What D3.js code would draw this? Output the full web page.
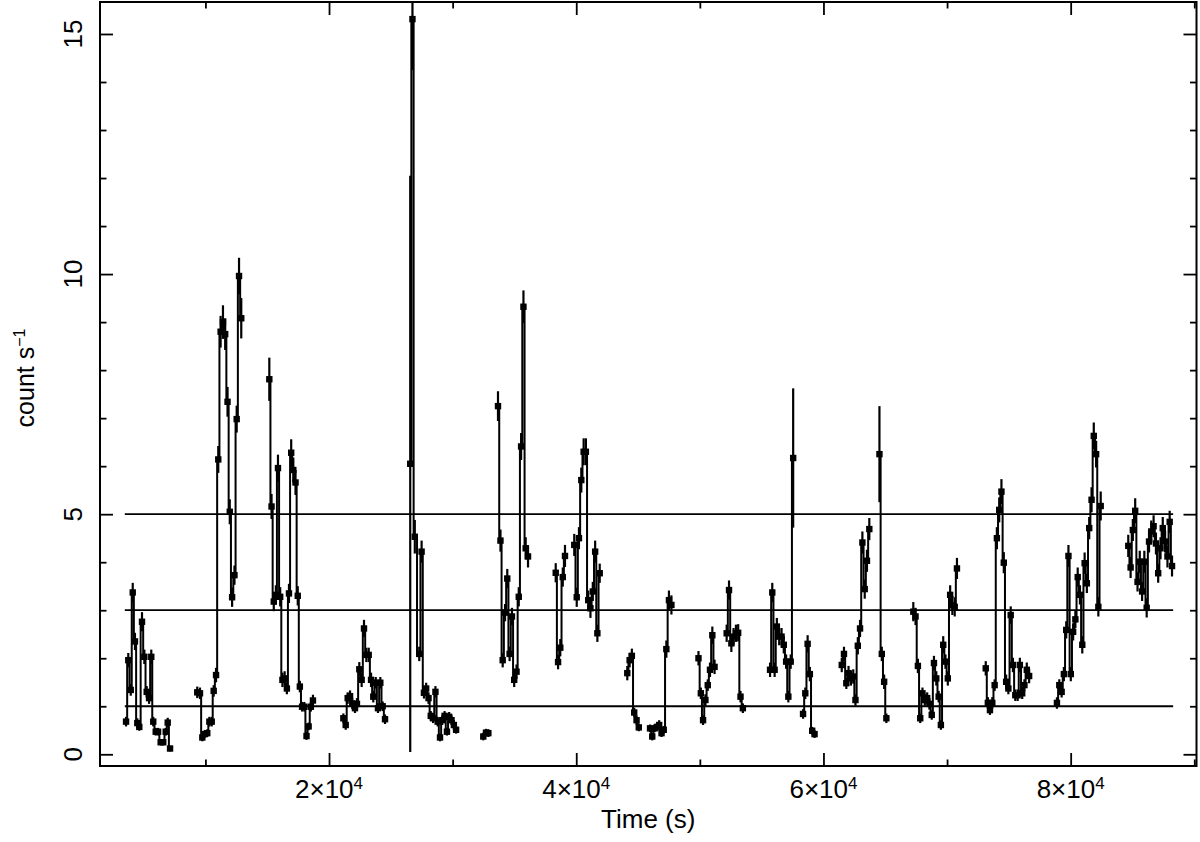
<!DOCTYPE html>
<html><head><meta charset="utf-8">
<script src="https://cdn.jsdelivr.net/npm/d3@7"></script>
<style>body{margin:0;background:#fff}svg{display:block}text{font-family:"Liberation Sans",Arial,Helvetica,sans-serif;fill:#000}</style>
</head><body>
<svg id="c" width="1200" height="842"></svg>
<script>
// Light-curve segments: [time (s), rate (count/s), 1-sigma error]
const segA=[[3580,0.68,0.10],[3760,1.96,0.15],[3960,1.34,0.12],[4120,3.37,0.20],[4300,2.35,0.18],[4490,0.65,0.10],[4650,0.57,0.08],[4870,2.76,0.20],[5060,2.03,0.15],[5250,1.30,0.12],[5440,1.17,0.12],[5620,2.03,0.15],[5780,0.68,0.10],[5980,0.47,0.08],[6170,0.47,0.08],[6380,0.25,0.06],[6590,0.25,0.06],[6790,0.47,0.08],[6950,0.66,0.10],[7140,0.12,0.06]];
const segB=[[9340,1.29,0.12],[9560,1.27,0.12],[9750,0.35,0.08],[9940,0.42,0.08],[10150,0.44,0.08],[10320,0.68,0.10],[10510,0.68,0.10],[10670,1.32,0.12],[10860,1.65,0.15],[11040,6.14,0.28],[11230,8.80,0.33],[11420,9.00,0.35],[11600,8.75,0.33],[11790,7.34,0.31],[11970,5.05,0.26],[12160,3.27,0.20],[12350,3.73,0.20],[12530,6.98,0.28],[12720,9.96,0.38],[12900,9.08,0.42]];
const segC=[[15170,7.81,0.45],[15350,5.16,0.26],[15530,3.18,0.20],[15700,3.32,0.20],[15870,5.96,0.28],[16050,3.28,0.20],[16230,1.55,0.15],[16410,1.58,0.15],[16590,1.37,0.12],[16760,3.35,0.20],[16940,6.28,0.28],[17110,5.92,0.26],[17290,5.66,0.26],[17470,3.30,0.20],[17640,1.41,0.12],[17820,0.99,0.10],[18000,0.99,0.10],[18180,0.38,0.08],[18350,0.58,0.08],[18530,0.99,0.10],[18700,1.12,0.12]];
const segD=[[21160,0.75,0.10],[21350,0.61,0.10],[21510,1.17,0.12],[21700,1.21,0.12],[21880,1.06,0.12],[22100,0.96,0.10],[22260,1.05,0.12],[22450,1.77,0.15],[22640,1.55,0.15],[22830,2.62,0.18],[23020,2.07,0.15],[23210,2.07,0.15],[23400,1.55,0.15],[23580,1.20,0.12],[23780,1.49,0.12],[23960,0.96,0.10],[24150,1.49,0.12],[24340,1.00,0.10],[24530,0.73,0.10]];
const segE=[[26570,6.05,6.00],[26750,15.31,1.06],[26940,4.53,0.35],[27300,2.09,0.15],[27490,4.22,0.23],[27680,1.28,0.12],[27860,1.37,0.12],[28050,1.17,0.12],[28230,0.80,0.10],[28420,0.75,0.10],[28610,1.30,0.12],[28790,0.68,0.10],[28980,0.35,0.08],[29160,0.71,0.10],[29350,0.80,0.10],[29540,0.47,0.08],[29720,0.78,0.10],[29910,0.71,0.10],[30100,0.61,0.10],[30280,0.51,0.08]];
const segF=[[32480,0.37,0.08],[32700,0.45,0.08],[32890,0.44,0.08]];
const segG=[[33670,7.25,0.31],[33870,4.45,0.23],[34050,1.96,0.15],[34240,2.95,0.18],[34420,3.66,0.20],[34610,2.09,0.15],[34800,2.87,0.18],[34980,1.55,0.15],[35170,1.72,0.15],[35350,3.28,0.20],[35540,6.41,0.28],[35730,9.32,0.34],[35910,4.29,0.23],[36100,4.12,0.23]];
const segH1=[[38340,3.78,0.20],[38530,1.92,0.15],[38710,2.22,0.18],[38910,3.69,0.20],[39090,4.13,0.23]];
const segH2=[[39840,4.36,0.23],[40040,3.27,0.20],[40220,4.50,0.23],[40410,5.71,0.26],[40600,6.30,0.28],[40780,6.30,0.28],[40970,3.21,0.20],[41150,3.04,0.20],[41340,3.39,0.20],[41530,4.22,0.23],[41710,2.52,0.18],[41900,3.77,0.20]];
const segI1=[[44130,1.69,0.15],[44320,1.96,0.15],[44500,2.05,0.15],[44690,0.87,0.10],[44880,0.71,0.10],[45060,0.56,0.08]];
const segI2=[[45970,0.54,0.08],[46150,0.37,0.08],[46340,0.54,0.08],[46530,0.57,0.08],[46710,0.61,0.10],[46900,0.44,0.08],[47080,0.51,0.08],[47290,2.19,0.18],[47500,3.21,0.20],[47700,3.11,0.20]];
const segJ1=[[49890,2.00,0.15],[50080,1.27,0.12],[50260,0.71,0.10],[50450,1.13,0.12],[50640,1.44,0.12],[50820,1.76,0.15],[51010,2.48,0.18],[51190,1.82,0.15]];
const segJ2=[[52170,2.52,0.18],[52360,3.42,0.20],[52550,2.31,0.18],[52730,2.45,0.18],[52920,2.52,0.18],[53100,2.53,0.18],[53290,1.20,0.12],[53480,0.96,0.10]];
const segK1=[[55680,1.76,0.15],[55860,3.37,0.20],[56050,1.76,0.15],[56230,2.66,0.18],[56420,2.45,0.18],[56610,2.45,0.18],[56790,2.28,0.18],[56980,1.93,0.15],[57160,1.20,0.12],[57350,1.93,0.15],[57550,6.17,1.45]];
const segK2=[[58350,0.84,0.10],[58530,1.27,0.12],[58720,2.30,0.18],[58900,1.67,0.15],[59090,0.49,0.08],[59280,0.42,0.08]];
const segL1=[[61480,1.86,0.15],[61660,2.09,0.15],[61850,1.48,0.12],[62030,1.69,0.15],[62220,1.58,0.15],[62410,1.62,0.15],[62590,1.13,0.12],[62780,2.26,0.18],[62960,2.62,0.18],[63150,4.41,0.23],[63340,3.44,0.20],[63520,4.03,0.23],[63710,4.69,0.23]];
const segL2=[[64530,6.25,1.00],[64720,2.09,0.15],[64910,1.51,0.15],[65090,0.75,0.10]];
const segM=[[67270,2.97,0.20],[67450,2.87,0.18],[67640,1.84,0.15],[67830,0.75,0.10],[68010,1.27,0.12],[68200,1.13,0.12],[68390,1.17,0.12],[68570,1.05,0.12],[68760,0.82,0.10],[68940,1.90,0.15],[69130,1.58,0.15],[69320,1.20,0.12],[69500,0.61,0.10],[69690,2.28,0.18],[69870,1.93,0.15],[70060,1.58,0.15],[70250,3.32,0.20],[70430,3.10,0.20],[70620,3.07,0.20],[70800,3.87,0.22]];
const segN=[[73130,1.79,0.15],[73300,1.07,0.12],[73470,0.92,0.10],[73660,1.07,0.12],[73850,1.44,0.12],[74030,4.50,0.23],[74220,5.09,0.26],[74400,5.47,0.26],[74590,3.99,0.22],[74780,1.51,0.15],[74960,1.37,0.12],[75150,2.90,0.18],[75330,1.86,0.15],[75520,1.23,0.12],[75710,1.23,0.12],[75890,1.86,0.15],[76080,1.27,0.12],[76260,1.44,0.12],[76450,1.76,0.15],[76640,1.63,0.15]];
const segO=[[78890,1.07,0.12],[79080,1.44,0.12],[79270,1.30,0.12],[79450,1.67,0.15],[79640,2.59,0.18],[79820,4.13,0.23],[80010,1.67,0.15],[80200,2.55,0.18],[80380,2.81,0.18],[80570,3.69,0.20],[80750,3.32,0.20],[80940,2.28,0.18],[81130,3.98,0.22],[81310,3.56,0.20],[81500,4.71,0.23],[81690,5.30,0.26],[81870,6.63,0.28],[82060,6.25,0.28],[82240,3.07,0.20],[82430,5.17,0.30]];
const segP=[[84660,4.34,0.23],[84850,3.89,0.22],[85030,4.67,0.23],[85220,5.07,0.26],[85410,3.59,0.20],[85590,4.01,0.23],[85780,3.39,0.20],[85960,4.01,0.23],[86150,3.05,0.20],[86340,4.43,0.23],[86520,4.64,0.23],[86710,4.75,0.23],[86900,4.39,0.23],[87080,3.77,0.20],[87270,4.29,0.23],[87450,4.71,0.23],[87640,4.43,0.23],[87830,4.12,0.23],[88010,4.84,0.23],[88200,3.92,0.22]];
const segments=[segA,segB,segC,segD,segE,segF,segG,segH1,segH2,segI1,segI2,segJ1,segJ2,segK1,segK2,segL1,segL2,segM,segN,segO,segP];
const binHalf=93;
const refLevels=[1,3,5];
const refSpan=[3480,88290];
const xDomain=[1472,90180];
const yDomain=[-0.244,15.666];
const xMajor=[20000,40000,60000,80000];
const xMinor=[10000,30000,50000,70000,90000];
const xLabels=["2","4","6","8"];
const yMajor=[0,5,10,15];
const yMinor=[1,2,3,4,6,7,8,9,11,12,13,14];
const xTitle="Time (s)";

const L=100,R=1196.5,T=2,B=766;
const svg=d3.select("#c");
const x=d3.scaleLinear().domain(xDomain).range([L,R]);
const y=d3.scaleLinear().domain(yDomain).range([B,T]);

svg.append("defs").append("clipPath").attr("id","clip").append("rect")
  .attr("x",L).attr("y",T).attr("width",R-L).attr("height",B-T);

const plot=svg.append("g").attr("clip-path","url(#clip)");

// reference levels
plot.selectAll("line.ref").data(refLevels).join("line")
  .attr("x1",x(refSpan[0])).attr("x2",x(refSpan[1]))
  .attr("y1",d=>y(d)).attr("y2",d=>y(d))
  .attr("stroke","#000").attr("stroke-width",1.8);

const line=d3.line().curve(d3.curveStep).x(d=>x(d[0])).y(d=>y(d[1]));
segments.forEach(seg=>{
  const g=plot.append("g");
  g.append("path").attr("d",line(seg)).attr("fill","none").attr("stroke","#000").attr("stroke-width",2);
  g.selectAll("line.ey").data(seg).join("line")
    .attr("x1",d=>x(d[0])).attr("x2",d=>x(d[0]))
    .attr("y1",d=>y(d[1]-d[2])).attr("y2",d=>y(d[1]+d[2]))
    .attr("stroke","#000").attr("stroke-width",2.2);
  g.selectAll("line.ex").data(seg).join("line")
    .attr("x1",d=>x(d[0]-binHalf)).attr("x2",d=>x(d[0]+binHalf))
    .attr("y1",d=>y(d[1])).attr("y2",d=>y(d[1]))
    .attr("stroke","#000").attr("stroke-width",2);
  g.selectAll("rect").data(seg).join("rect")
    .attr("x",d=>x(d[0])-3.2).attr("y",d=>y(d[1])-3.2)
    .attr("width",6.4).attr("height",6.4).attr("fill","#000");
});

// axes (inward ticks on all four sides)
function ax(gen,vals,size,tr){
  const g=svg.append("g").attr("transform",tr).call(gen.tickValues(vals).tickSize(size).tickFormat(""));
  g.select(".domain").remove();
  g.selectAll(".tick line").attr("stroke","#000").attr("stroke-width",1.8);
}
ax(d3.axisBottom(x),xMajor,-13,`translate(0,${B})`);
ax(d3.axisBottom(x),xMinor,-6.5,`translate(0,${B})`);
ax(d3.axisTop(x),xMajor,-13,`translate(0,${T})`);
ax(d3.axisTop(x),xMinor,-6.5,`translate(0,${T})`);
ax(d3.axisLeft(y),yMajor,-13,`translate(${L},0)`);
ax(d3.axisLeft(y),yMinor,-6.5,`translate(${L},0)`);
ax(d3.axisRight(y),yMajor,-13,`translate(${R},0)`);
ax(d3.axisRight(y),yMinor,-6.5,`translate(${R},0)`);

svg.append("rect").attr("x",L).attr("y",T).attr("width",R-L).attr("height",B-T)
  .attr("fill","none").attr("stroke","#000").attr("stroke-width",2);

// x tick labels
xMajor.forEach((v,i)=>{
  const t=svg.append("text").attr("x",x(v)).attr("y",798).attr("text-anchor","middle").attr("font-size",26);
  t.append("tspan").text(xLabels[i]+"×10");
  t.append("tspan").attr("dy",-9).attr("font-size",17).text("4");
});
// y tick labels (rotated)
yMajor.forEach(v=>{
  svg.append("text").attr("transform",`translate(82,${y(v)}) rotate(-90)`)
    .attr("text-anchor","middle").attr("font-size",26).text(v);
});
svg.append("text").attr("x",(L+R)/2).attr("y",828).attr("text-anchor","middle").attr("font-size",26).text(xTitle);
const yl=svg.append("text").attr("transform","translate(34,378) rotate(-90)").attr("text-anchor","middle").attr("font-size",25);
yl.append("tspan").text("count s");
yl.append("tspan").attr("dy",-9).attr("font-size",16).text("−1");
</script>
</body></html>
